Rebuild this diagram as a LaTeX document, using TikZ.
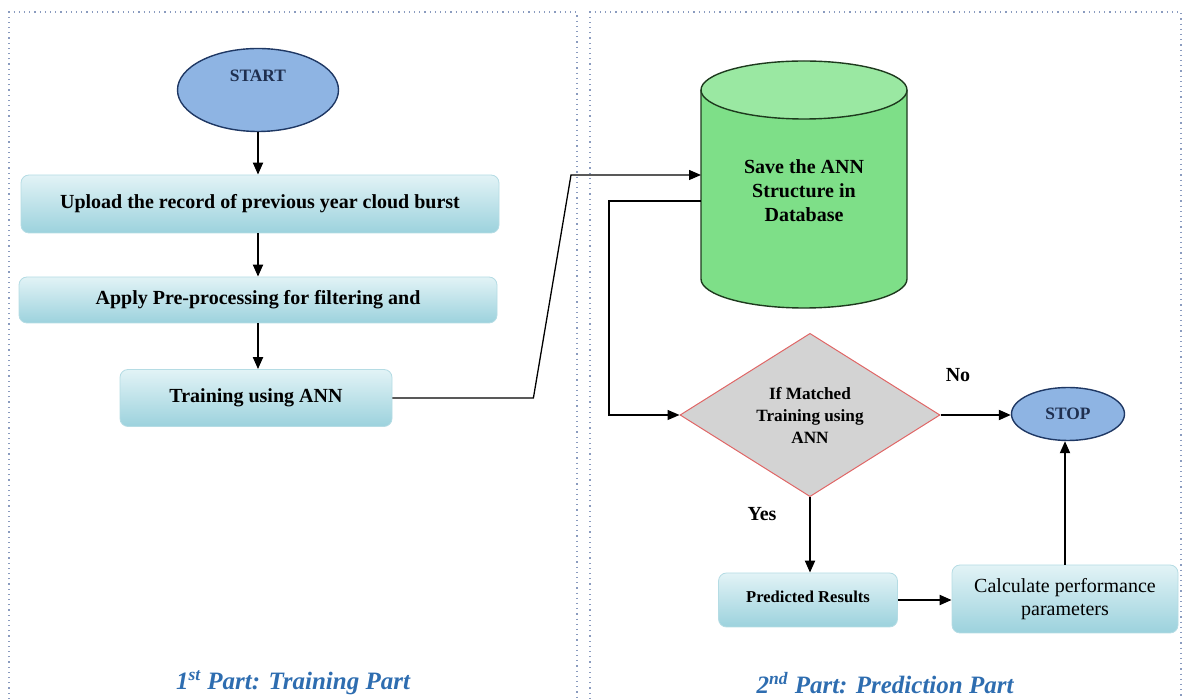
\documentclass[tikz,border=0pt]{standalone}
\usepackage{fontspec}
\setmainfont{Liberation Serif}
\usetikzlibrary{shapes.geometric,arrows.meta}
\definecolor{panelline}{HTML}{8A9BBF}
\definecolor{ovalfill}{HTML}{8EB4E3}
\definecolor{ovaledge}{HTML}{1F3864}
\definecolor{ovaltext}{HTML}{1F2F4F}
\definecolor{dbbody}{HTML}{7EDF88}
\definecolor{dbtop}{HTML}{9AE8A2}
\definecolor{dbedge}{HTML}{1E3A1E}
\definecolor{decfill}{HTML}{D3D3D3}
\definecolor{decedge}{HTML}{E06666}
\definecolor{boxlight}{HTML}{E2F3F6}
\definecolor{boxdark}{HTML}{9CD2DD}
\definecolor{boxedge}{HTML}{B5DCE4}
\definecolor{capblue}{HTML}{2E6DB0}

\begin{document}
\begin{tikzpicture}[x=0.5pt,y=-0.5pt,
  oval/.style={ellipse,draw=ovaledge,line width=0.7pt,fill=ovalfill,inner sep=0pt},
  procbox/.style={rounded corners=4pt,draw=boxedge,line width=0.4pt,top color=boxlight,bottom color=boxdark,font=\bfseries\fontsize{10}{11}\selectfont,inner sep=0pt},
  arr/.style={-{Triangle[length=6pt,width=5pt]},line width=1pt},
  link/.style={line width=0.65pt},
  caption/.style={font=\bfseries\itshape\fontsize{12.5}{14}\selectfont,text=capblue}]
\useasboundingbox (0,0) rectangle (1184,699);

% Draw panels
\draw[panelline,dotted,line width=0.6pt] (9,699) -- (9,12) -- (577,12) -- (577,699);
\draw[panelline,dotted,line width=0.6pt] (590,699) -- (590,12) -- (1181,12) -- (1181,699);

% Training part
\node[oval,minimum width=80.5pt,minimum height=41.5pt] (start) at (258,90) {};
\node[font=\bfseries\fontsize{8.7}{10}\selectfont,text=ovaltext] (starttxt) at (258,76) {START};
\node[procbox,minimum width=239pt,minimum height=29pt] (upload) at (260,204) {Upload the record of previous year cloud burst};
\node[procbox,minimum width=239pt,minimum height=23pt] (apply) at (258,300) {Apply Pre-processing for filtering and};
\node[procbox,minimum width=136pt,minimum height=28.5pt] (train) at (256,398) {\raisebox{2pt}{Training using ANN}};

\draw[arr] (start.south) -- (start.south |- upload.north);
\draw[arr] (start.south |- upload.south) -- (start.south |- apply.north);
\draw[arr] (start.south |- apply.south) -- (start.south |- train.north);

% Prediction part
\fill[dbbody] (701,90) -- (701,279) arc (180:0:103 and 29) -- (907,90) -- cycle;
\draw[dbedge,line width=0.7pt] (701,90) -- (701,279) arc (180:0:103 and 29) -- (907,90);
\draw[dbedge,line width=0.7pt,fill=dbtop] (804,90) ellipse (103 and 29);
\node[align=center,font=\bfseries\fontsize{10}{12}\selectfont] (db) at (804,191) {Save the ANN\\Structure in\\Database};
\coordinate (dbin) at (701,175);
\coordinate (dbout) at (701,201);

\node[diamond,draw=decedge,fill=decfill,line width=0.5pt,minimum width=130pt,minimum height=72pt,inner sep=0pt,align=center,font=\bfseries\fontsize{8.6}{11}\selectfont] (dec) at (810,415) {If Matched\\Training using\\ANN};
\node[oval,minimum width=56.5pt,minimum height=26.5pt,font=\bfseries\fontsize{8.7}{10}\selectfont,text=ovaltext] (stop) at (1068,414) {STOP};
\node[procbox,minimum width=89.5pt,minimum height=27pt,font=\bfseries\fontsize{8.3}{9}\selectfont] (pred) at (808,600) {\raisebox{3.5pt}{Predicted Results}};
\node[procbox,minimum width=113pt,minimum height=34pt,align=center,font=\fontsize{10}{11.5}\selectfont] (calc) at (1065,599) {Calculate performance\\parameters};

\node[font=\bfseries\fontsize{10}{12}\selectfont] (nolbl) at (958,375) {No};
\node[font=\bfseries\fontsize{10}{12}\selectfont] (yeslbl) at (762,514) {Yes};

\draw[link,-{Triangle[length=6pt,width=5pt]}] (train.east) -- ++(141,0) -- (571,175) -- (dbin);
\draw[link,-{Triangle[length=6pt,width=5pt]}] (dbout) -- (609,201) |- (dec.west);
\draw[arr] (dec.east) -- (dec.east -| stop.west);
\draw[arr] (dec.south) -- (dec.south |- pred.north);
\draw[arr] (pred.east) -- (pred.east -| calc.west);
\draw[arr] (calc.north) -- (calc.north |- stop.south);

% Captions
\node[caption] (cap1) at (293,683) {1\textsuperscript{st} Part: Training Part};
\node[caption] (cap2) at (885,683) {2\textsuperscript{nd} Part: Prediction Part};
\end{tikzpicture}
\end{document}
